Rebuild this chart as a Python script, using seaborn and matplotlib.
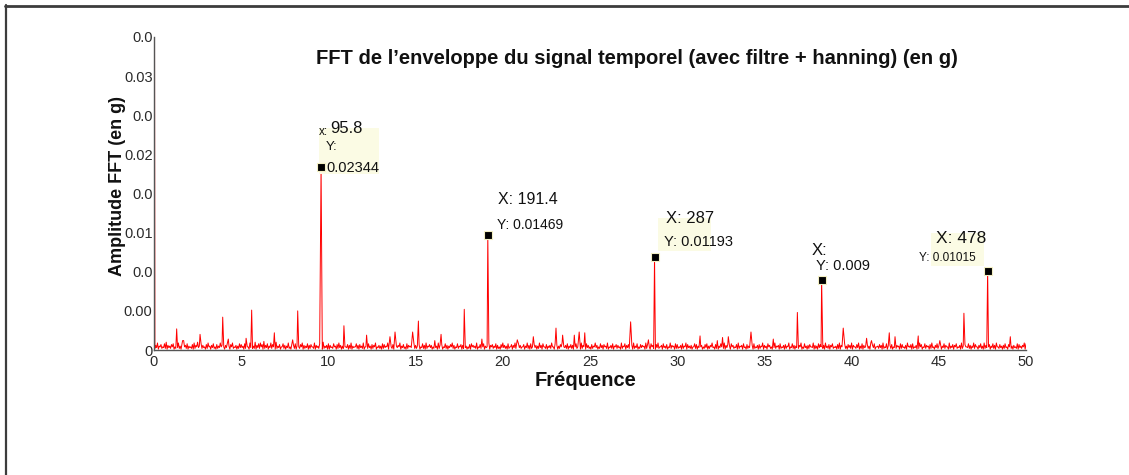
import numpy as np
import pandas as pd
import matplotlib
matplotlib.use("Agg")
import matplotlib.pyplot as plt
import matplotlib.transforms as mtransforms
from matplotlib.patches import Rectangle
from matplotlib.lines import Line2D
import seaborn as sns

# noise floor, one value every 0.1 Hz from 0.1 to 50.0, in units of 1e-4 g
noise_e4 = [
    6, 9, 5, 7, 4, 8, 10, 6, 5, 7, 8, 4, 6, 9, 5, 7, 12, 6, 8, 5, 4, 7, 9, 6, 10, 5, 8, 6, 4, 7,
    9, 5, 6, 8, 4, 7, 5, 9, 6, 4, 6, 8, 5, 7, 9, 4, 6, 5, 8, 7,
    5, 8, 6, 4, 9, 7, 5, 10, 6, 8, 9, 7, 11, 6, 8, 5, 9, 7, 6, 10, 5, 7, 4, 8, 6, 5, 9, 4, 7, 6,
    8, 5, 4, 7, 9, 6, 5, 8, 6, 7, 4, 9, 6, 5, 8, 7, 10, 5, 6, 8,
    6, 4, 8, 5, 7, 9, 6, 5, 8, 4, 7, 6, 9, 5, 4, 8, 6, 7, 5, 9, 4, 6, 8, 5, 7, 6, 9, 4, 6, 5,
    8, 7, 5, 9, 6, 4, 7, 8, 5, 6, 9, 5, 7, 4, 8, 6, 5, 7, 9, 6,
    5, 7, 4, 8, 6, 9, 5, 7, 6, 4, 8, 5, 9, 6, 7, 4, 8, 6, 5, 7, 9, 6, 4, 8, 5, 7, 6, 9, 5, 4,
    7, 8, 6, 5, 9, 4, 7, 6, 8, 5, 4, 9, 6, 7, 5, 8, 6, 4, 7, 9,
    6, 5, 8, 4, 7, 6, 9, 5, 8, 6, 4, 7, 5, 9, 6, 8, 4, 7, 6, 5, 9, 6, 8, 4, 7, 5, 6, 9, 4, 8,
    6, 5, 7, 9, 4, 6, 8, 5, 7, 6, 5, 8, 4, 7, 9, 6, 5, 8, 6, 4,
    7, 5, 9, 6, 4, 8, 6, 7, 5, 9, 4, 6, 8, 5, 7, 6, 4, 9, 5, 8, 6, 7, 4, 6, 9, 5, 8, 4, 7, 6,
    5, 9, 7, 4, 8, 6, 5, 7, 9, 4, 6, 8, 5, 7, 4, 9, 6, 5, 8, 7,
    4, 6, 8, 5, 9, 7, 5, 6, 4, 8, 7, 5, 9, 6, 4, 7, 8, 5, 6, 9, 4, 7, 6, 5, 8, 4, 9, 6, 7, 5,
    8, 6, 4, 7, 9, 5, 6, 8, 4, 7, 5, 9, 6, 8, 4, 6, 7, 5, 9, 6,
    5, 8, 6, 4, 7, 9, 5, 6, 8, 4, 6, 7, 5, 9, 4, 8, 6, 5, 7, 6, 9, 4, 8, 5, 6, 7, 4, 9, 6, 5,
    8, 7, 4, 6, 9, 5, 7, 6, 8, 4, 5, 7, 9, 6, 4, 8, 5, 7, 6, 9,
    6, 4, 7, 9, 5, 8, 6, 4, 7, 5, 9, 6, 8, 4, 5, 7, 6, 9, 4, 8, 5, 6, 7, 4, 9, 6, 5, 8, 7, 4,
    6, 9, 5, 7, 8, 4, 6, 5, 9, 7, 4, 8, 6, 5, 7, 9, 4, 6, 8, 5,
    7, 5, 8, 6, 4, 9, 5, 7, 6, 8, 4, 6, 9, 5, 7, 4, 8, 6, 5, 9, 7, 4, 6, 8, 5, 9, 6, 4, 7, 5,
    8, 6, 9, 4, 7, 5, 6, 8, 4, 7, 9, 5, 6, 4, 8, 7, 5, 6, 9, 8,
]
# noise floor in between, at 0.05, 0.15, ... 49.95 Hz, in units of 1e-4 g
noise_mid_e4 = [
    2, 3, 1, 4, 2, 3, 2, 1, 3, 2, 4, 1, 2, 3, 2, 1, 3, 4, 2, 1, 3, 2, 1, 2, 4, 3, 1, 2, 3, 1,
    2, 4, 1, 3, 2, 1, 2, 3, 4, 2, 1, 3, 2, 1, 4, 2, 3, 1, 2, 3,
    3, 1, 2, 4, 1, 3, 2, 2, 1, 3, 2, 4, 1, 2, 3, 1, 3, 2, 4, 1, 2, 3, 1, 4, 2, 1, 3, 2, 1, 4,
    2, 1, 3, 2, 4, 1, 2, 3, 1, 2, 4, 2, 1, 3, 2, 4, 1, 2, 3, 1,
    1, 3, 2, 4, 1, 2, 3, 1, 2, 4, 3, 1, 2, 1, 3, 4, 2, 1, 3, 2, 1, 4, 2, 3, 1, 2, 4, 1, 3, 2,
    1, 2, 3, 4, 1, 3, 2, 1, 2, 3, 4, 1, 3, 2, 1, 2, 4, 3, 1, 2,
    2, 4, 1, 3, 2, 1, 2, 4, 3, 1, 2, 3, 1, 2, 4, 1, 3, 2, 1, 3, 4, 2, 1, 3, 2, 4, 1, 2, 3, 1,
    2, 1, 4, 3, 2, 1, 3, 2, 4, 1, 3, 2, 1, 4, 2, 3, 1, 2, 1, 3,
    3, 2, 1, 2, 4, 1, 3, 2, 1, 3, 2, 4, 1, 3, 2, 1, 2, 4, 3, 1, 2, 3, 1, 4, 2, 1, 3, 2, 4, 1,
    3, 1, 2, 4, 1, 3, 2, 1, 3, 2, 1, 4, 2, 3, 1, 2, 4, 1, 3, 2,
    1, 2, 4, 3, 1, 2, 3, 1, 4, 2, 1, 3, 2, 1, 4, 2, 3, 1, 2, 4, 1, 3, 2, 4, 1, 2, 3, 1, 2, 3,
    4, 1, 2, 3, 1, 4, 2, 1, 3, 2, 4, 1, 3, 2, 1, 3, 2, 4, 1, 2,
    2, 3, 1, 2, 4, 1, 3, 2, 1, 4, 2, 1, 3, 4, 1, 2, 3, 1, 2, 4, 3, 1, 2, 1, 3, 4, 2, 1, 3, 2,
    1, 4, 2, 3, 1, 2, 4, 1, 3, 1, 2, 3, 4, 1, 2, 3, 1, 2, 4, 1,
    3, 1, 4, 2, 1, 3, 2, 4, 1, 2, 3, 1, 2, 4, 1, 3, 2, 1, 3, 2, 4, 1, 2, 3, 1, 2, 4, 3, 1, 2,
    1, 3, 4, 2, 1, 3, 2, 1, 4, 2, 3, 1, 2, 1, 4, 3, 2, 1, 3, 2,
    1, 4, 2, 3, 1, 2, 1, 3, 4, 2, 1, 2, 3, 1, 4, 2, 3, 1, 2, 3, 1, 4, 2, 1, 3, 2, 4, 1, 2, 3,
    2, 1, 4, 3, 1, 2, 3, 1, 2, 4, 1, 3, 2, 4, 1, 2, 3, 1, 3, 2,
    2, 1, 3, 2, 4, 1, 2, 3, 1, 4, 2, 3, 1, 2, 1, 4, 3, 2, 1, 3, 2, 4, 1, 3, 2, 1, 2, 3, 4, 1,
    3, 2, 1, 4, 2, 3, 1, 2, 3, 1, 4, 2, 1, 3, 2, 1, 3, 2, 4, 1,
]
dc_amp = 0.1  # DC bin, far above the axis limit

# smaller lines of the spectrum (Hz, g)
minor_freq = [1.30, 1.64, 2.64, 3.94, 4.26, 5.28, 5.60, 6.90, 7.95, 8.24,
              10.89, 12.19, 13.53, 13.82, 14.83, 15.16, 16.10, 16.46, 17.79, 18.80,
              20.83, 21.75, 23.05, 23.43, 24.10, 24.38, 24.70, 27.33, 28.35, 31.31,
              32.30, 32.60, 32.93, 34.23, 35.51, 36.89, 39.52, 40.86, 41.14, 42.16,
              42.49, 43.82, 45.06, 46.44, 49.10]
minor_amp = [0.0027, 0.0012, 0.0020, 0.0042, 0.0014, 0.0015, 0.0051, 0.0022, 0.0013, 0.0050,
             0.0031, 0.0019, 0.0017, 0.0023, 0.0023, 0.0037, 0.0012, 0.0020, 0.0052, 0.0014,
             0.0013, 0.0017, 0.0028, 0.0019, 0.0019, 0.0023, 0.0022, 0.0036, 0.0013, 0.0018,
             0.0012, 0.0016, 0.0017, 0.0023, 0.0014, 0.0048, 0.0028, 0.0015, 0.0012, 0.0022,
             0.0017, 0.0018, 0.0012, 0.0047, 0.0017]

# harmonics with data tips
peak_freq = [9.58, 19.14, 28.70, 38.28, 47.80]
peak_amp = [0.02344, 0.01469, 0.01193, 0.009, 0.01015]
tip_x = ["95.8", "191.4", "287", "", "478"]
tip_y = ["0.02344", "0.01469", "0.01193", "0.009", "0.01015"]

ytick_vals = [0, 0.005, 0.01, 0.015, 0.02, 0.025, 0.03, 0.035, 0.04]
ytick_labels = ["0", "0.00", "0.0", "0.01", "0.0", "0.02", "0.0", "0.03", "0.0"]
xtick_vals = [0, 5, 10, 15, 20, 25, 30, 35, 40, 45, 50]

W, H = 1129, 475

sns.set_style("white")
plt.rcParams["font.family"] = ["Liberation Sans", "DejaVu Sans"]

# assemble the spectrum
grid_f = np.round(np.arange(1, len(noise_e4) + 1) * 0.1, 3)
mid_f = np.round(np.arange(len(noise_mid_e4)) * 0.1 + 0.05, 3)
floor_f = np.concatenate([grid_f, mid_f])
floor_a = np.concatenate([noise_e4, noise_mid_e4]) * 1e-4
spike_f = np.array(minor_freq + peak_freq)
spike_a = np.array(minor_amp + peak_amp)
keep = np.array([np.min(np.abs(spike_f - f)) > 0.03 for f in floor_f])
df = pd.DataFrame({
    "freq": np.concatenate([[0.0], floor_f[keep], spike_f]),
    "amp": np.concatenate([[dc_amp], floor_a[keep], spike_a]),
}).sort_values("freq")

fig = plt.figure(figsize=(W / 100, H / 100), dpi=100)
ax = fig.add_axes([154 / W, 1 - 350 / H, 872 / W, 313 / H])

sns.lineplot(data=df, x="freq", y="amp", ax=ax, color="#ff0000", lw=0.7,
             estimator=None, sort=False, zorder=2)

ax.set_xlim(0, 50)
ax.set_ylim(0, 0.04)
ax.set_xticks(xtick_vals)
ax.set_xticklabels([str(v) for v in xtick_vals])
ax.set_yticks(ytick_vals)
ax.set_yticklabels(ytick_labels)
ax.set_xlabel("")
ax.set_ylabel("")
ax.tick_params(axis="both", direction="in", colors="#555555", labelcolor="#2a2a2a",
               labelsize=10.5)
ax.tick_params(axis="y", length=8, pad=1)
ax.tick_params(axis="x", length=5, pad=3.5)
for s in ["top", "right"]:
    ax.spines[s].set_visible(False)
for s in ["left", "bottom"]:
    ax.spines[s].set_color("#555555")
    ax.spines[s].set_linewidth(1.0)

ax.scatter(peak_freq, peak_amp, marker="s", s=26, c="black", edgecolors="#f3efc4",
           linewidths=0.8, zorder=5, clip_on=False)

# data tip boxes (pixel offsets from each peak)
boxes = {0: (-2, -7, 60, 46), 2: (3, 6, 53, 33), 4: (-57, 5, 53, 33)}
for i, (dx, dy, bw, bh) in boxes.items():
    tr = mtransforms.IdentityTransform() + mtransforms.ScaledTranslation(
        peak_freq[i], peak_amp[i], ax.transData)
    ax.add_patch(Rectangle((dx, dy), bw, bh, transform=tr, facecolor="#fbfbe4",
                           edgecolor="none", zorder=3, clip_on=False))

def tip(i, text, dx, dy, size):
    ax.annotate(text, (peak_freq[i], peak_amp[i]), xytext=(dx, dy),
                textcoords="offset pixels", ha="left", va="center",
                fontsize=size, color="#111111", zorder=6, annotation_clip=False)

tip(0, "x:", -2, 35, 8.5)
tip(0, tip_x[0], 9, 38, 12)
tip(0, "Y:", 5, 20, 9.5)
tip(0, tip_y[0], 5, -1, 10.5)
tip(1, "X: " + tip_x[1], 10, 36, 11.5)
tip(1, "Y: " + tip_y[1], 9, 10, 10)
tip(2, "X: " + tip_x[2], 11, 38, 12)
tip(2, "Y: " + tip_y[2], 9, 15, 10.5)
tip(3, "X:" + tip_x[3], -10, 29, 12)
tip(3, "Y: " + tip_y[3], -6, 14, 10.5)
tip(4, "X: " + tip_x[4], -52, 32, 12.5)
tip(4, "Y: " + tip_y[4], -69, 13, 8.5)

fig.text(637 / W, 1 - 58 / H, "FFT de l\u2019enveloppe du signal temporel (avec filtre + hanning) (en g)",
         ha="center", va="center", fontsize=14.5, weight="bold", color="#111111")
fig.text(117 / W, 1 - 186 / H, "Amplitude FFT (en g)", rotation=90, ha="center",
         va="center", fontsize=13, weight="bold", color="#111111")
fig.text(586 / W, 1 - 381 / H, "Fr\u00e9quence", ha="center", va="center",
         fontsize=14.5, weight="bold", color="#111111")

# outer frame (top and left edges)
fig.add_artist(Line2D([5 / W, 1], [1 - 6 / H, 1 - 6 / H], transform=fig.transFigure,
                      color="#3c3c3c", lw=2.0))
fig.add_artist(Line2D([6 / W, 6 / W], [0, 1 - 5 / H], transform=fig.transFigure,
                      color="#3c3c3c", lw=1.6))

fig.savefig("out.png", dpi=100)
plt.close(fig)
